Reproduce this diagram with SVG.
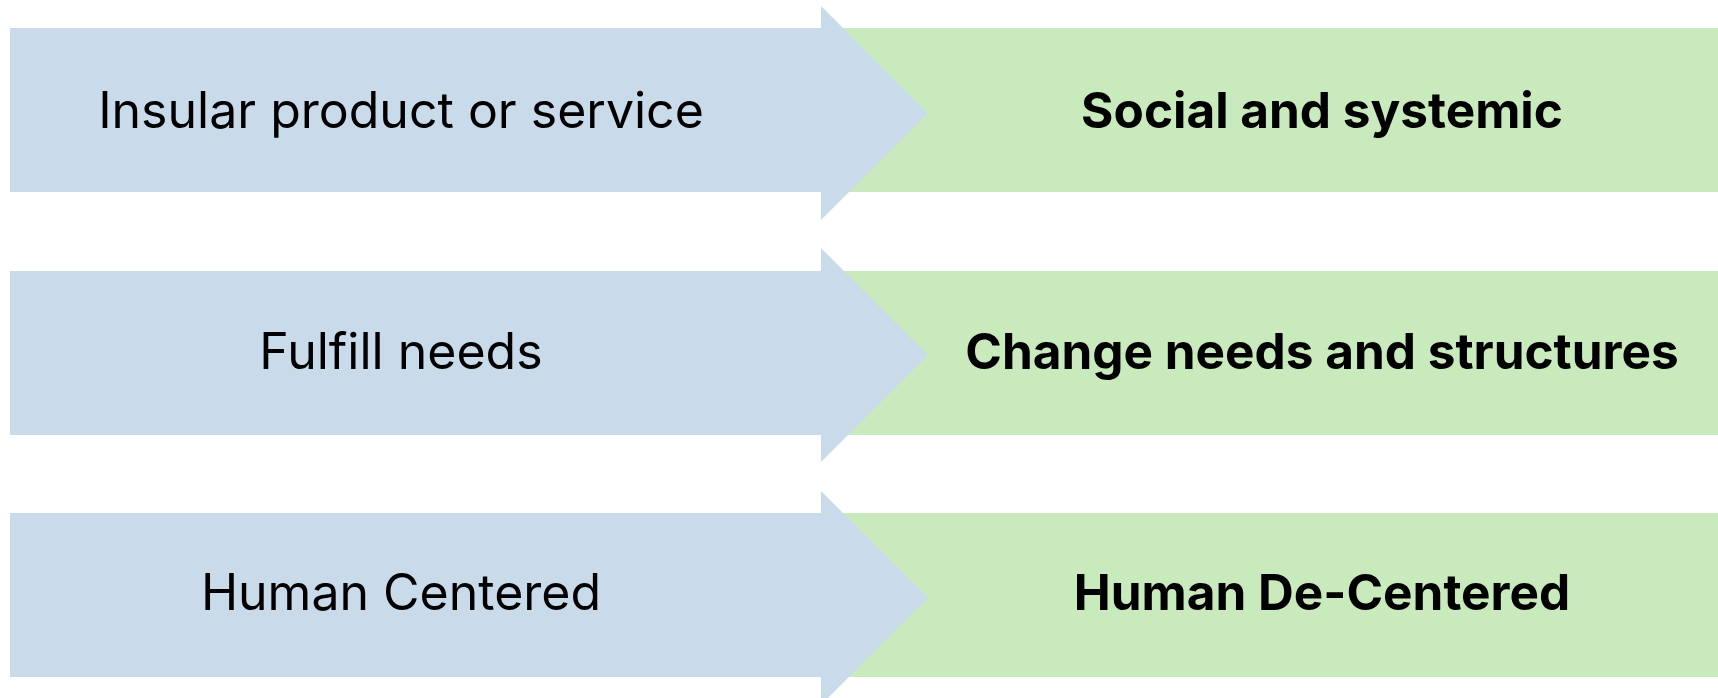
<svg xmlns="http://www.w3.org/2000/svg" width="1718" height="698" viewBox="0 0 1718 698">
  <style>
    .from { fill: #c9daea; }
    .to { fill: #c9eabd; }
    .lbl { font-family: Inter, "Liberation Sans", sans-serif; font-size: 50px; fill: #000; text-anchor: middle; }
    .lbl-b { font-weight: 700; font-size: 49.5px; }
  </style>
  <rect width="1718" height="698" fill="#ffffff"/>

  <!-- Row 1 -->
  <g id="row1-to">
    <rect class="to" x="840" y="28" width="878" height="164"/>
    <text class="lbl lbl-b" x="1322" y="128">Social and systemic</text>
  </g>
  <g id="row1-from">
    <polygon class="from" points="10,28 821,28 821,6 928,113 821,220 821,192 10,192"/>
    <text class="lbl" x="401" y="128">Insular product or service</text>
  </g>

  <!-- Row 2 -->
  <g id="row2-to">
    <rect class="to" x="840" y="271" width="878" height="164"/>
    <text class="lbl lbl-b" x="1322" y="369">Change needs and structures</text>
  </g>
  <g id="row2-from">
    <polygon class="from" points="10,271 821,271 821,248 928,355 821,462 821,435 10,435"/>
    <text class="lbl" x="401" y="369">Fulfill needs</text>
  </g>

  <!-- Row 3 -->
  <g id="row3-to">
    <rect class="to" x="840" y="513" width="878" height="164"/>
    <text class="lbl lbl-b" x="1322" y="610">Human De-Centered</text>
  </g>
  <g id="row3-from">
    <polygon class="from" points="10,513 821,513 821,491 928,598 821,705 821,677 10,677"/>
    <text class="lbl" x="401" y="610">Human Centered</text>
  </g>

  <g id="connectors"></g>
</svg>
